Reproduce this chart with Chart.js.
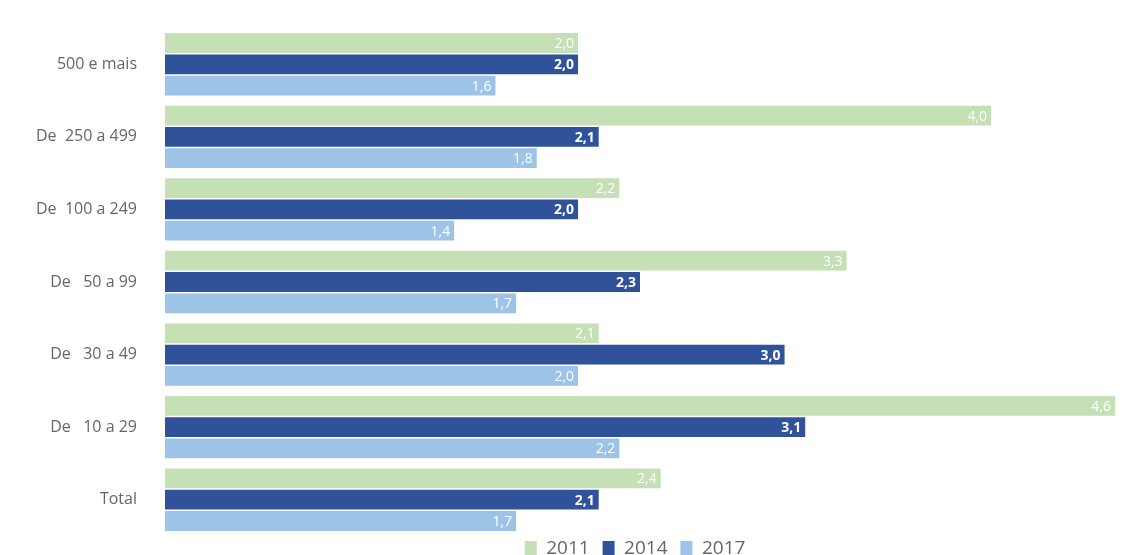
<!DOCTYPE html>
<html>
<head>
<meta charset="utf-8">
<script src="https://cdn.jsdelivr.net/npm/chart.js@4"></script>
<style>
  html, body { margin: 0; padding: 0; background: #fff; }
  #wrap { width: 1132px; height: 555px; }
</style>
</head>
<body>
<div id="wrap"><canvas id="chart"></canvas></div>
<script>
const categories = ['500 e mais', 'De  250 a 499', 'De  100 a 249', 'De   50 a 99', 'De   30 a 49', 'De   10 a 29', 'Total'];
const years = ['2011', '2014', '2017'];
const values2011 = [2.0, 4.0, 2.2, 3.3, 2.1, 4.6, 2.4];
const values2014 = [2.0, 2.1, 2.0, 2.3, 3.0, 3.1, 2.1];
const values2017 = [1.6, 1.8, 1.4, 1.7, 2.0, 2.2, 1.7];

const colors = ['#c5e0b4', '#2f529b', '#9dc3e6'];

// white value labels at the end of each bar
const barLabels = {
  id: 'barLabels',
  afterDatasetsDraw(chart) {
    const ctx = chart.ctx;
    ctx.save();
    ctx.fillStyle = '#ffffff';
    ctx.textAlign = 'right';
    ctx.textBaseline = 'middle';
    chart.data.datasets.forEach((ds, i) => {
      ctx.font = (i === 1 ? 'bold ' : '') + '14px "Open Sans", sans-serif';
      chart.getDatasetMeta(i).data.forEach((bar, j) => {
        const txt = ds.data[j].toFixed(1).replace('.', ',');
        ctx.fillText(txt, bar.x - 4, bar.y + 1);
      });
    });
    ctx.restore();
  }
};

// let the legend take a bit less height so the bars sit lower
const tightLegend = {
  id: 'tightLegend',
  beforeLayout(chart) {
    const legend = chart.legend;
    if (legend && !legend._tight) {
      const fit = legend.fit.bind(legend);
      legend.fit = function () { fit(); this.height -= 13; };
      legend._tight = true;
    }
  }
};

const chart = document.querySelector('#chart').getContext('2d');

new Chart(chart, {
  type: 'bar',
  data: {
    labels: categories,
    datasets: [
      { label: years[0], data: values2011, backgroundColor: colors[0] },
      { label: years[1], data: values2014, backgroundColor: colors[1] },
      { label: years[2], data: values2017, backgroundColor: colors[2] }
    ]
  },
  options: {
    indexAxis: 'y',
    responsive: true,
    maintainAspectRatio: false,
    animation: false,
    datasets: {
      bar: { categoryPercentage: 0.88, barPercentage: 0.93 }
    },
    layout: { padding: { left: 5, right: 17, top: 28, bottom: 0 } },
    scales: {
      x: {
        display: false,
        min: 0,
        max: 4.6
      },
      y: {
        grid: { display: false },
        border: { display: false },
        ticks: {
          color: '#666666',
          font: { family: '"Open Sans", sans-serif', size: 16 },
          padding: 20
        },
        afterFit: (s) => {
          s.width = 160;
          s.paddingTop = 0;
          s.paddingBottom = 0;
        }
      }
    },
    plugins: {
      legend: {
        position: 'bottom',
        fullSize: false,
        labels: {
          color: '#666666',
          font: { family: '"Open Sans", sans-serif', size: 19, lineHeight: 1 },
          boxWidth: 12,
          boxHeight: 15,
          padding: 3,
          // a little extra room between the items
          generateLabels: (c) => Chart.defaults.plugins.legend.labels.generateLabels(c)
            .map(item => ({ ...item, text: item.text + '  ' }))
        }
      },
      tooltip: { enabled: false }
    }
  },
  plugins: [barLabels, tightLegend]
});
</script>
</body>
</html>
